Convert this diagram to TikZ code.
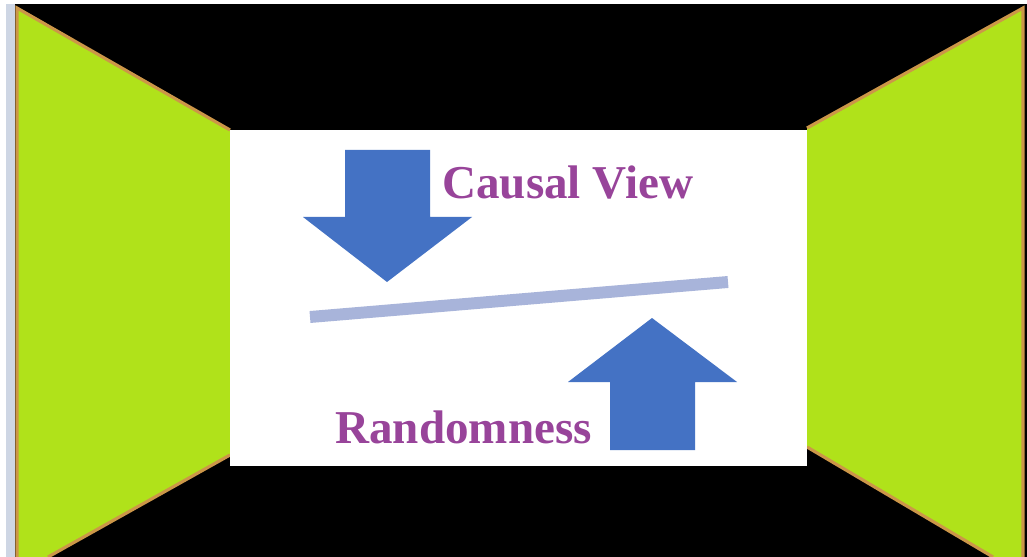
\documentclass[tikz,border=0pt]{standalone}
\usepackage{fontspec}
\setmainfont{Liberation Serif}
\usetikzlibrary{positioning}

\definecolor{panelgreen}{RGB}{176,226,26}
\definecolor{rimorange}{RGB}{204,150,72}
\definecolor{edgegray}{RGB}{206,214,228}
\definecolor{arrowblue}{RGB}{68,114,196}
\definecolor{barlav}{RGB}{168,180,218}
\definecolor{labelpurple}{RGB}{152,68,154}

\begin{document}
\begin{tikzpicture}[x=0.02cm, y=-0.02cm,
    panel/.style={fill=panelgreen},
    rim/.style={draw=rimorange, line width=1.8pt},
    bigarrow/.style={fill=arrowblue},
    lbl/.style={text=labelpurple, font=\bfseries\fontsize{26.8}{30}\selectfont, inner sep=0pt},
]
\useasboundingbox (0,0) rectangle (1027,557);

% Backdrop
\fill[white] (0,0) rectangle (1027,557);
\fill[black] (6,4) rectangle (1027,557);
\fill[edgegray] (6,4) rectangle (15,557);

% Side panels
\fill[panel] (17,8) -- (230,130) -- (230,455) -- (48,557) -- (17,557) -- cycle;
\draw[rim] (230,130) -- (17,8) -- (17,557);
\draw[rim] (230,455) -- (48,557);
\fill[panel] (1023,8) -- (807,128) -- (807,447) -- (993,557) -- (1023,557) -- cycle;
\draw[rim] (807,128) -- (1023,8) -- (1023,557);
\draw[rim] (807,447) -- (993,557);

% Centre board
\fill[white] (230,130) rectangle (807,466);

% Tilted bar
\draw[barlav, line width=6.8pt] (310,317) -- (728,282);

% Arrows
\fill[bigarrow] (345,150) -- (430,150) -- (430,217) -- (472,217) -- (387,282)
    -- (303,217) -- (345,217) -- cycle;
\fill[bigarrow] (610,450) -- (695,450) -- (695,382) -- (737,382) -- (652,318)
    -- (568,382) -- (610,382) -- cycle;

% Labels
\node[lbl, anchor=base west] (causal) at (442,198) {Causal View};
\node[lbl, anchor=base west] (random) at (335,443) {Randomness};
\end{tikzpicture}
\end{document}
